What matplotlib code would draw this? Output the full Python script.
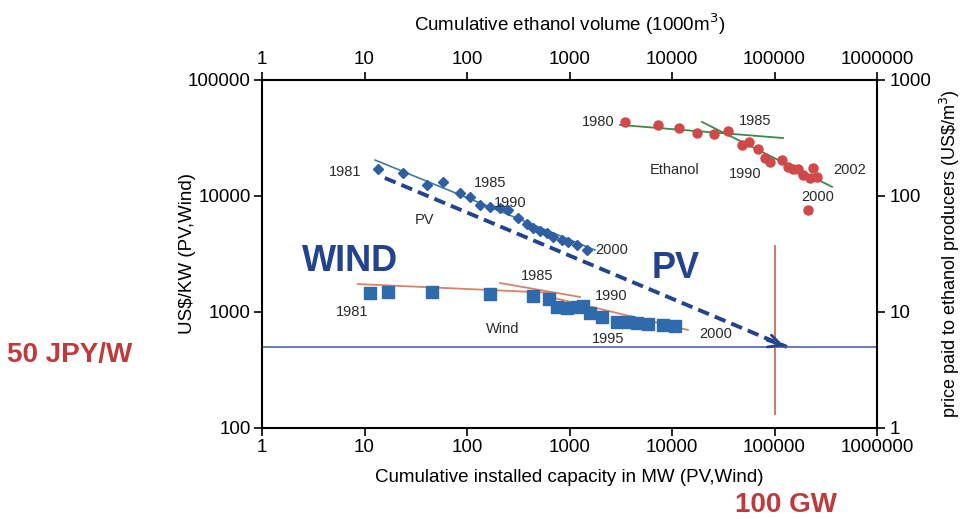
import matplotlib
matplotlib.use("Agg")
import matplotlib.pyplot as plt
import numpy as np

plt.rcParams['font.family'] = ['Liberation Sans', 'DejaVu Sans']

# PV (bottom / left axes)
pv_mw = [13.5, 23.8, 40.7, 58.3, 85.5, 107, 134, 168, 210, 251, 314, 385, 440, 515, 603, 690, 845, 967, 1183, 1482]
pv_cost = [17100, 15800, 12400, 13200, 10600, 9800, 8360, 8040, 7880, 7570, 6460, 5740, 5300, 4990, 4800, 4430, 4180, 4010, 3780, 3420]
pv_fit_mw = [12.7, 1770]
pv_fit_cost = [20400, 3420]
pv_proj_mw = [15.8, 132000]
pv_proj_cost = [14300, 500]

# Wind
wind_mw = [11.3, 17, 45.6, 168, 440, 631, 755, 946, 1183, 1355, 1585, 2075, 2905, 3720, 4560, 5840, 8170, 10700]
wind_cost = [1459, 1486, 1486, 1429, 1373, 1294, 1104, 1082, 1104, 1127, 979, 905, 820, 820, 804, 788, 773, 757]
wind_fit_a = ([8.6, 722], [1742, 1459])
wind_fit_b = ([210, 1266], [1778, 1347])
wind_fit_c = ([645, 14300], [1347, 700])

# Ethanol (top / right axes)
eth_vol = [3478, 7300, 11700, 17500, 25700, 35200, 48200, 56400, 69000, 80700, 90400, 118000, 135000, 151000, 169000, 190000, 222000, 238000, 260000, 212000]
eth_price = [435, 410, 385, 349, 342, 363, 275, 293, 254, 213, 196, 204, 178, 171, 171, 152, 143, 174, 146, 76]
eth_fit_1 = ([3110, 121000], [410, 316])
eth_fit_2 = ([19600, 364000], [435, 120])

target_cost = 500      # 50 JPY/W
target_mw = 100000     # 100 GW

x_ticks = [1, 10, 100, 1000, 10000, 100000, 1000000]
y_ticks = [100, 1000, 10000, 100000]
y2_ticks = [1, 10, 100, 1000]

navy = '#23428f'
red_txt = '#c0393b'

fig = plt.figure(figsize=(9.63, 5.19), dpi=100)
pos = [262/963, 1-428/519, 615/963, 348/519]
ax = fig.add_axes(pos)
ax.set_xscale('log')
ax.set_yscale('log')
ax.set_xlim(1, 1e6)
ax.set_ylim(100, 1e5)
ax.set_xticks(x_ticks)
ax.set_xticklabels([str(t) for t in x_ticks])
ax.set_yticks(y_ticks)
ax.set_yticklabels([str(t) for t in y_ticks])
ax.minorticks_off()
ax.tick_params(labelsize=13.5, length=6, width=1.2, pad=2)
for s in ax.spines.values():
    s.set_linewidth(1.5)
ax.set_xlabel('Cumulative installed capacity in MW (PV,Wind)', fontsize=13.5)
ax.xaxis.set_label_coords(0.5, -0.118)
ax.set_ylabel('US$/KW (PV,Wind)', fontsize=13.5)
ax.yaxis.set_label_coords(-0.107, 0.5)

# PV
ax.plot(pv_fit_mw, pv_fit_cost, color='#3d7d9c', lw=1.2)
ax.plot(pv_mw, pv_cost, 'D', color='#2f5fa3', ms=5, ls='none')
ax.plot(pv_proj_mw, pv_proj_cost, color=navy, lw=2.8, ls=(0, (3, 1.6)))
ax.annotate('', xy=(pv_proj_mw[1], pv_proj_cost[1]), xytext=(80000, 580),
            arrowprops=dict(arrowstyle='->,head_length=0.9,head_width=0.45', color=navy, lw=2))

# Wind
for fx, fy in (wind_fit_a, wind_fit_b, wind_fit_c):
    ax.plot(fx, fy, color='#d9826a', lw=1.3)
ax.plot(wind_mw, wind_cost, 's', color='#2f6aac', ms=8, ls='none')

# target lines
ax.axhline(target_cost, color='#3a5a9a', lw=1.1)
ax.vlines(target_mw, 130, 3800, color='#c8503a', lw=1.1)

# Ethanol axes
ax2 = fig.add_axes(pos, facecolor='none')
ax2.set_xscale('log')
ax2.set_yscale('log')
ax2.set_xlim(1, 1e6)
ax2.set_ylim(1, 1000)
ax2.xaxis.tick_top()
ax2.xaxis.set_label_position('top')
ax2.yaxis.tick_right()
ax2.yaxis.set_label_position('right')
ax2.set_xticks(x_ticks)
ax2.set_xticklabels([str(t) for t in x_ticks])
ax2.set_yticks(y2_ticks)
ax2.set_yticklabels([str(t) for t in y2_ticks])
ax2.minorticks_off()
ax2.tick_params(labelsize=13.5, length=6, width=1.2, pad=3)
for s in ax2.spines.values():
    s.set_visible(False)
ax2.set_xlabel('Cumulative ethanol volume (1000m$^3$)', fontsize=13.5, labelpad=14)
ax2.set_ylabel('price paid to ethanol producers (US\\$/m$^3$)', fontsize=13, va='center')
ax2.yaxis.set_label_coords(1.119, 0.5)

for fx, fy in (eth_fit_1, eth_fit_2):
    ax2.plot(fx, fy, color='#3a8a4a', lw=1.3)
ax2.plot(eth_vol, eth_price, 'o', color='#d04848', ms=6.5, ls='none')

# labels
lab = dict(fontsize=10.5, ha='center', va='center', color='#2a2a2a')
for txt, x, y in [('1981', 6.45, 16100), ('1985', 168, 12900), ('1990', 263, 8710),
                  ('PV', 38.9, 6210), ('2000', 2600, 3420),
                  ('1985', 482, 2040), ('1990', 2540, 1374), ('1981', 7.55, 1000),
                  ('Wind', 224, 713), ('1995', 2375, 585), ('2000', 26900, 646),
                  ('1980', 1896, 43500), ('1985', 64500, 44400), ('Ethanol', 10700, 16700),
                  ('1990', 51500, 15500), ('2002', 546000, 16700), ('2000', 266000, 9790)]:
    ax.text(x, y, txt, **lab)

ax.text(7.2, 2700, 'WIND', fontsize=26, fontweight='bold', color=navy, ha='center', va='center')
ax.text(10900, 2390, 'PV', fontsize=26, fontweight='bold', color=navy, ha='center', va='center')

fig.text(70/963, 1-355/519, '50 JPY/W', fontsize=20, fontweight='bold', color=red_txt,
         ha='center', va='center')
fig.text(786/963, 1-505/519, '100 GW', fontsize=20, fontweight='bold', color=red_txt,
         ha='center', va='center')

fig.savefig('out.png', dpi=100)
